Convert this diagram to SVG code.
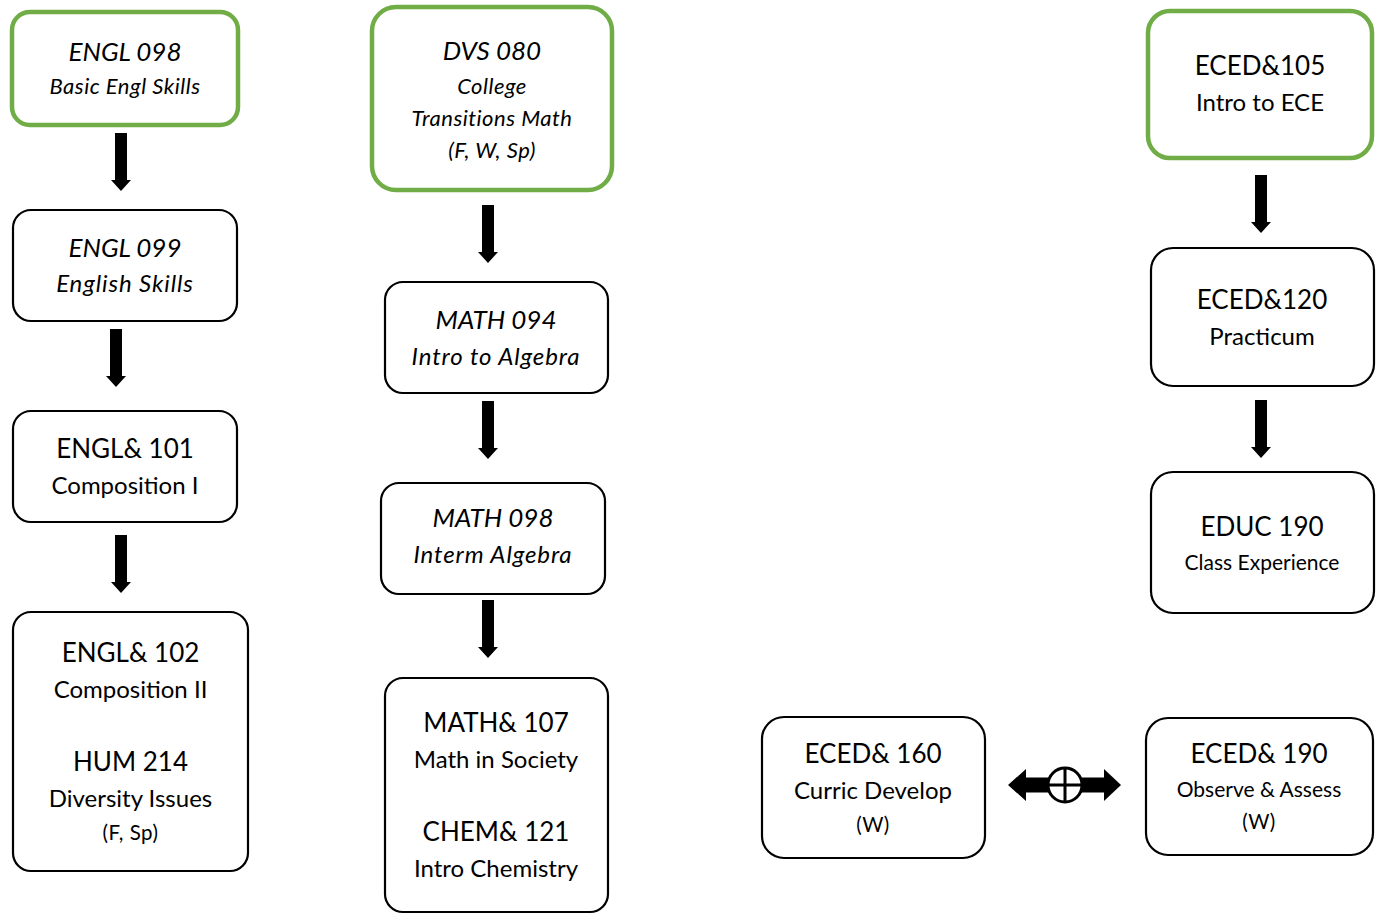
<svg xmlns="http://www.w3.org/2000/svg" width="1380" height="914" viewBox="0 0 1380 914">
<defs>
<style>
.box{fill:#fff;stroke:#000;stroke-width:2.2}
.gbox{fill:#fff;stroke:#70AD47;stroke-width:4.5}
text{font-family:Lato,"Noto Sans",sans-serif;fill:#000;text-anchor:middle}
.it{font-style:italic}
.t{font-size:26px}
.s{font-size:24px}
.m{font-size:21px}
.x{font-size:20.5px;letter-spacing:0.5px}
.is{font-size:24px;letter-spacing:0.9px}
.im{font-size:22px;letter-spacing:0.5px}
.arr{fill:#000}
</style>
<path id="dn" d="M-6,0 H6 V47 H10 L0,58 L-10,47 H-6 Z"/>
</defs>
<rect width="1380" height="914" fill="#fff"/>
<g id="connectors" class="arr">
<use href="#dn" x="121" y="133"/>
<use href="#dn" x="116" y="329"/>
<use href="#dn" x="121" y="535"/>
<use href="#dn" x="488" y="205"/>
<use href="#dn" x="488" y="401"/>
<use href="#dn" x="488" y="600"/>
<use href="#dn" x="1261" y="175"/>
<use href="#dn" x="1261" y="400"/>
<g id="double-arrow">
<path d="M1008,785 L1026,769 V777.5 H1104 V769 L1121,785 L1104,801 V792.5 H1026 V801 Z"/>
<circle cx="1065" cy="785" r="17" fill="#fff" stroke="#000" stroke-width="3"/>
<path d="M1048,785 H1082 M1065,768 V802" stroke="#000" stroke-width="3" fill="none"/>
</g>
</g>
<g id="engl098"><rect class="gbox" x="12" y="12" width="226" height="113" rx="18"/>
<text class="it t" x="125" y="61">ENGL 098</text><text class="it im" x="125" y="94">Basic Engl Skills</text></g>
<g id="engl099"><rect class="box" x="13" y="210" width="224" height="111" rx="18"/>
<text class="it t" x="125" y="257">ENGL 099</text><text class="it is" x="125" y="292">English Skills</text></g>
<g id="engl101"><rect class="box" x="13" y="411" width="224" height="111" rx="18"/>
<text class="t" x="125" y="458">ENGL&amp; 101</text><text class="s" x="125" y="494">Composition I</text></g>
<g id="engl102"><rect class="box" x="13" y="612" width="235" height="259" rx="18"/>
<text class="t" x="130.5" y="662">ENGL&amp; 102</text><text class="s" x="130.5" y="698">Composition II</text>
<text class="t" x="130.5" y="771">HUM 214</text><text class="s" x="130.5" y="807">Diversity Issues</text><text class="x" x="130.5" y="840">(F, Sp)</text></g>
<g id="dvs080"><rect class="gbox" x="372" y="7" width="240" height="183" rx="24"/>
<text class="it t" x="492" y="60">DVS 080</text><text class="it im" x="492" y="94">College</text>
<text class="it im" x="492" y="126">Transitions Math</text><text class="it im" x="492" y="158">(F, W, Sp)</text></g>
<g id="math094"><rect class="box" x="385" y="282" width="223" height="111" rx="18"/>
<text class="it t" x="496" y="329">MATH 094</text><text class="it is" x="496" y="365">Intro to Algebra</text></g>
<g id="math098"><rect class="box" x="381" y="483" width="224" height="111" rx="18"/>
<text class="it t" x="493" y="527">MATH 098</text><text class="it is" x="493" y="563">Interm Algebra</text></g>
<g id="math107"><rect class="box" x="385" y="678" width="223" height="234" rx="18"/>
<text class="t" x="496" y="732">MATH&amp; 107</text><text class="s" x="496" y="768">Math in Society</text>
<text class="t" x="496" y="841">CHEM&amp; 121</text><text class="s" x="496" y="877">Intro Chemistry</text></g>
<g id="eced105"><rect class="gbox" x="1148" y="11" width="224" height="147" rx="22"/>
<text class="t" x="1260" y="75">ECED&amp;105</text><text class="s" x="1260" y="111">Intro to ECE</text></g>
<g id="eced120"><rect class="box" x="1151" y="248" width="223" height="138" rx="22"/>
<text class="t" x="1262" y="309">ECED&amp;120</text><text class="s" x="1262" y="345">Practicum</text></g>
<g id="educ190"><rect class="box" x="1151" y="472" width="223" height="141" rx="22"/>
<text class="t" x="1262" y="536">EDUC 190</text><text class="m" x="1262" y="570">Class Experience</text></g>
<g id="eced160"><rect class="box" x="762" y="717" width="223" height="141" rx="22"/>
<text class="t" x="873" y="763">ECED&amp; 160</text><text class="s" x="873" y="799">Curric Develop</text><text class="x" x="873" y="832">(W)</text></g>
<g id="eced190"><rect class="box" x="1146" y="718" width="227" height="137" rx="22"/>
<text class="t" x="1259" y="763">ECED&amp; 190</text><text class="m" x="1259" y="797">Observe &amp; Assess</text><text class="x" x="1259" y="829">(W)</text></g>
</svg>
